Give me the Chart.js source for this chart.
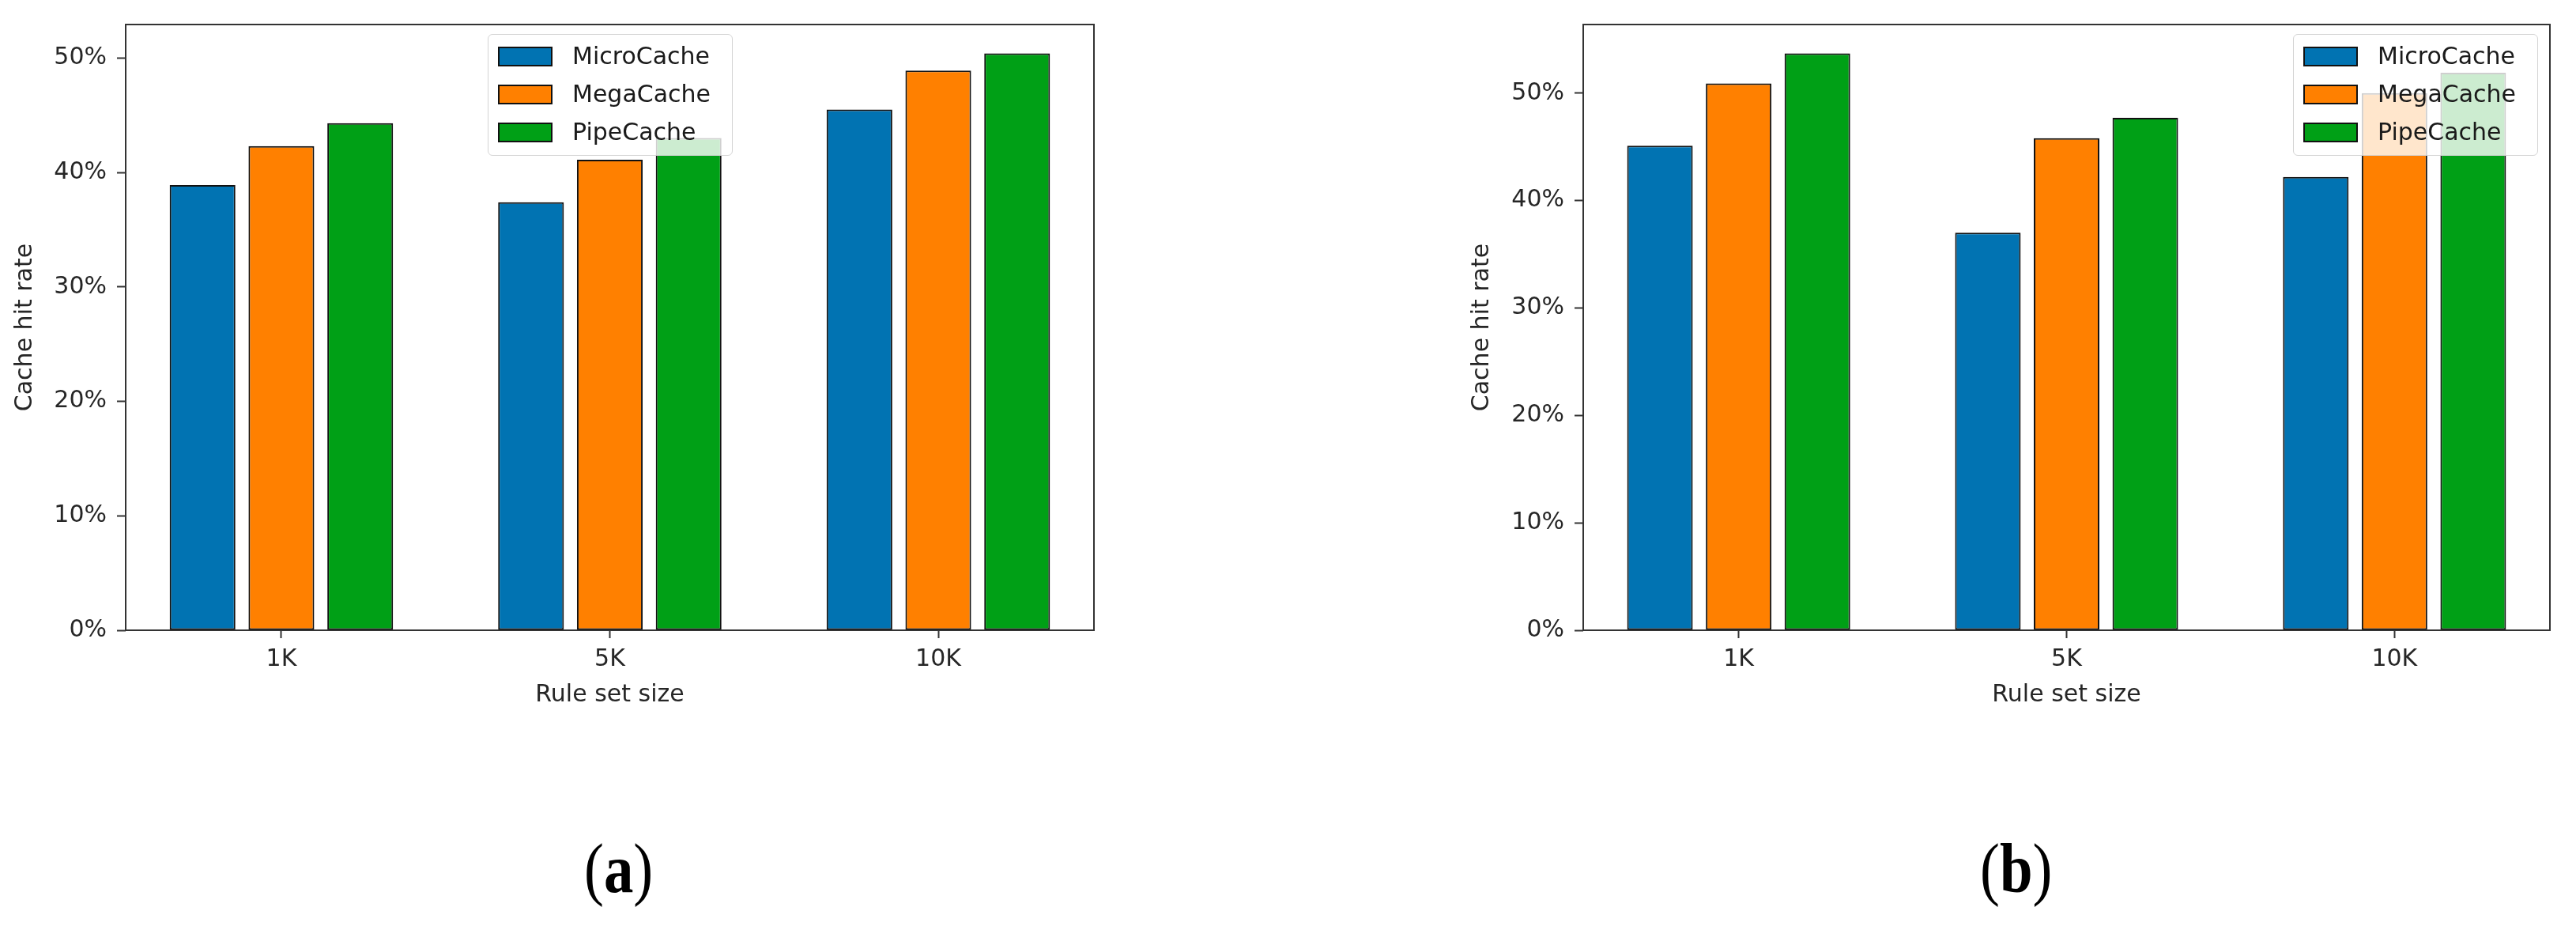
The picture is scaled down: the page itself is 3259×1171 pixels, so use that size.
<!DOCTYPE html>
<html>
<head>
<meta charset="utf-8">
<script src="https://cdn.jsdelivr.net/npm/chart.js@4/dist/chart.umd.min.js"></script>
<style>
html, body { margin: 0; padding: 0; background: #fff; }
#page { position: relative; width: 3259px; height: 1171px; overflow: hidden; background: #fff; }
.chartbox { position: absolute; top: 0; }
.legend { position: absolute; top: 43px; width: 308px; height: 152px; border: 1.5px solid #d4d4d4; border-radius: 6px;
  background: rgba(255,255,255,0.8); font-family: 'DejaVu Sans'; font-size: 30px; color: #1a1a1a; }
.swatch { position: absolute; left: 12px; width: 65px; height: 21px; border: 2px solid #111; }
.ltext { position: absolute; left: 106px; height: 36px; line-height: 36px; white-space: nowrap; }
.panel { position: absolute; top: 1055px; font-family: 'Liberation Serif'; font-size: 88px; line-height: 88px;
  transform: scaleX(0.85); transform-origin: 0 0; color: #000; white-space: nowrap; }
</style>
</head>
<body>
<div id="page">
  <div class="chartbox" id="boxA" style="left:0px;width:1400px;height:930px;"><canvas id="chartA" width="1400" height="930"></canvas></div>
  <div class="chartbox" id="boxB" style="left:1700px;width:1559px;height:930px;"><canvas id="chartB" width="1559" height="930"></canvas></div>
  <div class="legend" id="legendA" style="left:617px;"></div>
  <div class="legend" id="legendB" style="left:2901px;"></div>
  <div class="panel" style="left:739px;">(<b>a</b>)</div>
  <div class="panel" style="left:2505px;">(<b>b</b>)</div>
</div>
<script>
// ---- data ----
const categories = ['1K', '5K', '10K'];
const seriesNames = ['MicroCache', 'MegaCache', 'PipeCache'];
const microA = [38.9, 37.4, 45.5];
const megaA  = [42.3, 41.1, 48.9];
const pipeA  = [44.3, 43.0, 50.4];
const microB = [45.1, 37.0, 42.2];
const megaB  = [50.9, 45.8, 50.0];
const pipeB  = [53.7, 47.7, 51.9];
const yTicks = [0, 10, 20, 30, 40, 50];
const xTitle = 'Rule set size';
const yTitle = 'Cache hit rate';

// ---- styling ----
const colors = ['#0173b2', '#ff8000', '#00a016'];
const FONT = { family: 'DejaVu Sans', size: 30 };
const TEXT = '#262626';
const AXIS = '#333333';

// matplotlib-like x limits: bars span +-(offset + half width), plus 5% margins
const barOffset = 0.24, barWidth = 0.2;
const dataLo = -(barOffset + barWidth / 2), dataHi = (categories.length - 1) + barOffset + barWidth / 2;
const xMargin = (dataHi - dataLo) * 0.05;

const framePlugin = {
  id: 'frame',
  afterDatasetsDraw(chart) {
    const { ctx, chartArea: { left, top, right, bottom } } = chart;
    ctx.save();
    ctx.strokeStyle = AXIS;
    ctx.lineWidth = 2;
    ctx.strokeRect(left, top, right - left, bottom - top);
    ctx.restore();
  }
};

function makeChart(canvasId, seriesList, layout) {
  const maxVal = Math.max(...seriesList.flat());
  const datasets = seriesList.map((vals, k) => ({
    label: seriesNames[k],
    data: categories.map((c, i) => ({ x: i, y: vals[i] })),
    backgroundColor: colors[k],
    borderColor: '#111',
    borderWidth: 2,
    borderSkipped: false,
    categoryPercentage: barOffset * 3,
    barPercentage: barWidth / barOffset
  }));
  return new Chart(document.getElementById(canvasId), {
    type: 'bar',
    data: { datasets },
    plugins: [framePlugin],
    options: {
      responsive: false,
      animation: false,
      devicePixelRatio: 1,
      layout: { padding: { top: 27, right: layout.padRight, left: 0, bottom: 0 } },
      plugins: { legend: { display: false }, tooltip: { enabled: false } },
      scales: {
        x: {
          type: 'linear',
          min: dataLo - xMargin,
          max: dataHi + xMargin,
          offset: false,
          afterBuildTicks: s => { s.ticks = categories.map((c, i) => ({ value: i })); },
          afterFit: s => { s.height = 133; },
          ticks: { callback: (v, idx) => categories[idx], font: FONT, color: TEXT, padding: 9, autoSkip: false, maxRotation: 0 },
          grid: { display: true, offset: false, drawOnChartArea: false, drawTicks: true, tickLength: 10, tickWidth: 2, tickColor: AXIS },
          border: { display: false },
          title: { display: true, text: xTitle, font: FONT, color: TEXT, padding: { top: 0, bottom: 33 } }
        },
        y: {
          min: 0,
          max: maxVal * 1.05,
          afterBuildTicks: s => { s.ticks = yTicks.map(v => ({ value: v })); },
          afterFit: s => { s.width = layout.yWidth; },
          ticks: { callback: v => v + '%', font: FONT, color: TEXT, padding: 13 },
          grid: { display: true, drawOnChartArea: false, drawTicks: true, tickLength: 11, tickWidth: 2, tickColor: AXIS },
          border: { display: false },
          title: { display: true, text: yTitle, font: FONT, color: TEXT, padding: { top: layout.yTitlePad, bottom: 0 } }
        }
      }
    }
  });
}

function buildLegend(id) {
  const box = document.getElementById(id);
  seriesNames.forEach((name, k) => {
    const cy = 27 + 48 * k;
    const sw = document.createElement('div');
    sw.className = 'swatch';
    sw.style.top = (cy - 12.5) + 'px';
    sw.style.background = colors[k];
    box.appendChild(sw);
    const t = document.createElement('div');
    t.className = 'ltext';
    t.style.top = (cy - 18) + 'px';
    t.textContent = name;
    box.appendChild(t);
  });
}

makeChart('chartA', [microA, megaA, pipeA], { padRight: 16, yWidth: 159, yTitlePad: 14 });
makeChart('chartB', [microB, megaB, pipeB], { padRight: 33, yWidth: 303, yTitlePad: 157 });
buildLegend('legendA');
buildLegend('legendB');
</script>
</body>
</html>
